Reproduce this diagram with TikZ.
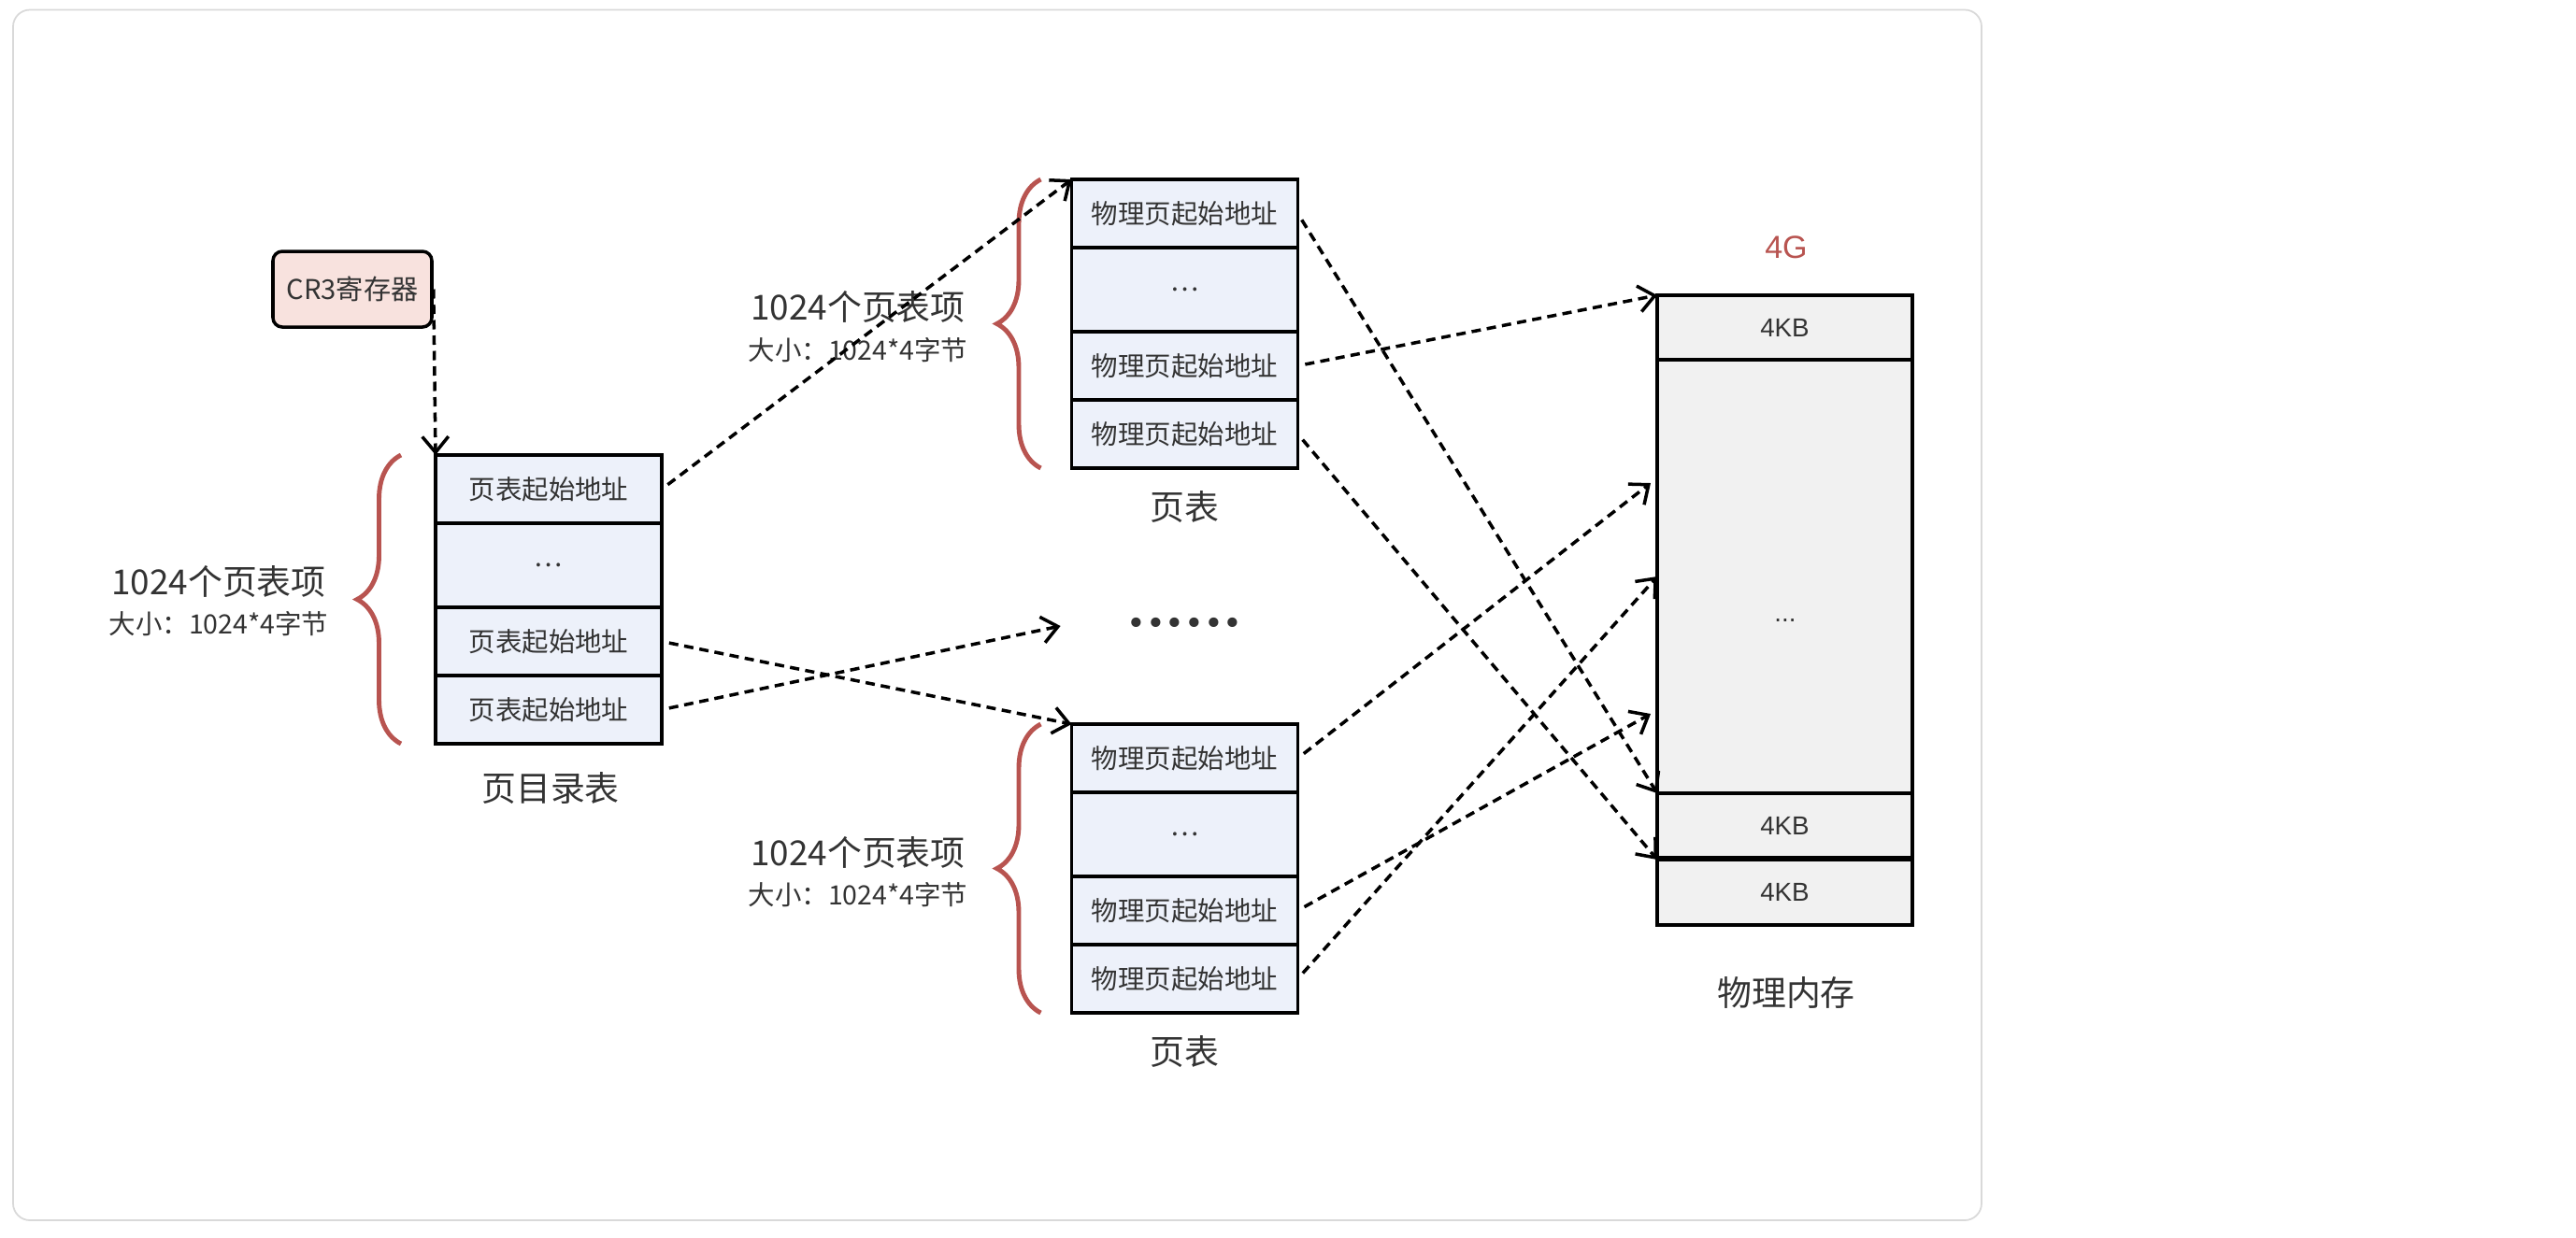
\documentclass[tikz,border=0pt]{standalone}
\usepackage{fontspec}
\setmainfont{Noto Sans CJK SC}
\newfontfamily\kbfont{Liberation Sans}
\newfontfamily\dotfont{DejaVu Sans}
\usepackage{tikz}
\usetikzlibrary{arrows.meta, positioning, decorations.pathreplacing, calc}
\definecolor{cellBlue}{HTML}{EDF1FA}
\definecolor{memGrey}{HTML}{F1F1F1}
\definecolor{regPink}{HTML}{F8E2DE}
\definecolor{braceRed}{HTML}{B85450}
\definecolor{txtGrey}{HTML}{333333}
\definecolor{frameGrey}{HTML}{D9D9D9}

\begin{document}
\begin{tikzpicture}[
    every node/.style={text=txtGrey},
    cell/.style={draw=black, line width=1pt, fill=cellBlue, minimum width=2.42cm, minimum height=0.73cm,
      inner sep=0pt, outer sep=0pt, font=\fontsize{8.1pt}{9pt}\selectfont},
    gapcell/.style={cell, minimum height=0.90cm},
    memcell/.style={cell, fill=memGrey, minimum width=2.73cm, minimum height=0.69cm,
      font=\kbfont\fontsize{7.9pt}{9pt}\selectfont},
    link/.style={draw=black, line width=1pt, dash pattern=on 1mm off 0.65mm, shorten <=0.08cm,
      -{Straight Barb[length=1.7mm, width=2.8mm]}},
    curly/.style={draw=braceRed, line width=1.4pt, decorate, decoration={brace, amplitude=0.47cm}},
    headtxt/.style={font=\fontsize{10.5pt}{12pt}\selectfont},
    subtxt/.style={font=\fontsize{8.1pt}{9pt}\selectfont},
  ]
    \useasboundingbox (0,0) rectangle (27.56,-13.24);
    \draw[frameGrey, line width=0.5pt, rounded corners=0.18cm] (0.14,-0.105) rectangle (21.20,-13.06);

    \node[draw=black, line width=1pt, fill=regPink, rounded corners=0.1cm, minimum width=1.70cm,
      minimum height=0.81cm, inner sep=0pt, font=\fontsize{8.3pt}{9pt}\selectfont] (cr3) at (3.77,-3.095) {CR3寄存器};

    \node[cell] (dir1) at (5.87,-5.235) {页表起始地址};
    \node[gapcell, below=0pt of dir1] (dir2) {…};
    \node[cell, below=0pt of dir2] (dir3) {页表起始地址};
    \node[cell, below=0pt of dir3] (dir4) {页表起始地址};
    \node[headtxt] (dirLbl) at (5.89,-8.44) {页目录表};

    \foreach \n/\y in {pta/-2.285, ptb/-8.115} {
      \node[cell] (\n1) at (12.675,\y) {物理页起始地址};
      \node[gapcell, below=0pt of \n1] (\n2) {…};
      \node[cell, below=0pt of \n2] (\n3) {物理页起始地址};
      \node[cell, below=0pt of \n3] (\n4) {物理页起始地址};
      \node[headtxt, below=0.12cm of \n4] (\n Lbl) {页表};
      \draw[curly] ([xshift=-0.33cm]\n4.south west) -- ([xshift=-0.33cm]\n1.north west);
    }
    \draw[curly] ([xshift=-0.37cm]dir4.south west) -- ([xshift=-0.37cm]dir1.north west);

    \foreach \n/\x/\y in {dir/2.34/-6.22, pta/9.18/-3.29, ptb/9.18/-9.12} {
      \node[headtxt] (\n Cnt) at (\x,\y) {1024个页表项};
      \node[subtxt] (\n Size) at (\x,\y-0.46) {大小：1024*4字节};
    }

    \node[font=\dotfont\fontsize{10pt}{12pt}\selectfont, inner sep=0pt] (dots) at (12.675,-6.70) {••••••};

    \node[font=\kbfont\fontsize{9.7pt}{11pt}\selectfont, text=braceRed] (memTop) at (19.11,-2.65) {4G};
    \node[memcell] (mem1) at (19.095,-3.505) {4KB};
    \node[memcell, minimum height=4.64cm, below=0pt of mem1] (mem2) {};
    \node[font=\kbfont\fontsize{7.9pt}{9pt}\selectfont] (memDots) at (19.10,-6.64) {...};
    \node[memcell, below=0pt of mem2] (mem3) {4KB};
    \node[memcell, minimum height=0.70cm, below=0.02cm of mem3] (mem4) {4KB};
    \node[headtxt] (memLbl) at (19.11,-10.62) {物理内存};

    \draw[link, shorten <=0pt] (cr3.east) -- (dir1.north west);
    \draw[link] (dir1.east) -- (pta1.north west);
    \draw[link] (dir3.east) -- (ptb1.north west);
    \draw[link] (dir4.east) -- ([xshift=-0.7cm]dots.west);

    \draw[link] (pta1.east) -- (mem3.north west);
    \draw[link] (pta3.east) -- (mem1.north west);
    \draw[link] (pta4.east) -- (mem4.north west);
    \draw[link] (ptb1.east) -- ([xshift=-0.07cm, yshift=1.0cm]mem2.west);
    \draw[link] (ptb3.east) -- ([xshift=-0.07cm, yshift=-1.47cm]mem2.west);
    \draw[link] (ptb4.east) -- (mem2.west);
\end{tikzpicture}
\end{document}
